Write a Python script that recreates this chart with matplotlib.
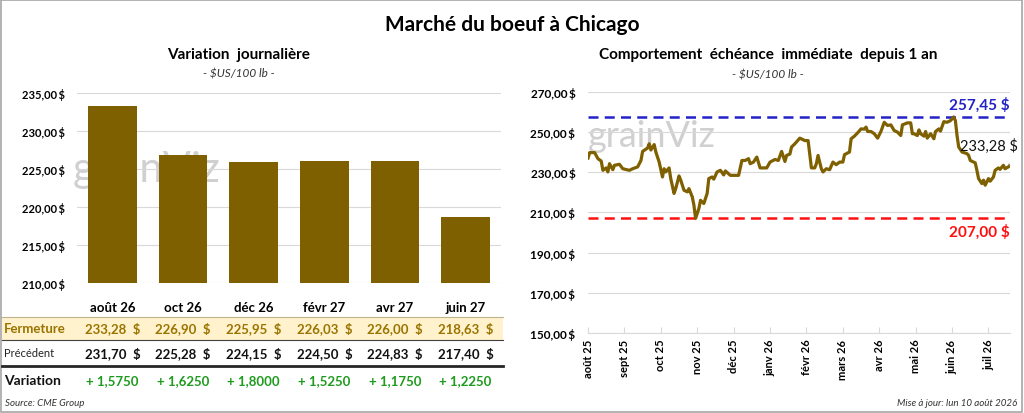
import matplotlib.pyplot as plt
from matplotlib.patches import Rectangle
from matplotlib.transforms import blended_transform_factory

plt.rcParams["font.family"] = ["Lato", "DejaVu Sans"]

W, H = 1024, 414

# --- left panel: daily variation per contract ---
contracts = ["août 26", "oct 26", "déc 26", "févr 27", "avr 27", "juin 27"]
closes = [233.28, 226.90, 225.95, 226.03, 226.00, 218.63]
previous = [231.70, 225.28, 224.15, 224.50, 224.83, 217.40]
changes = [1.5750, 1.6250, 1.8000, 1.5250, 1.1750, 1.2250]

# --- right panel: nearby contract over one year (session number, price) ---
sessions = [0, 1, 4, 6, 8, 9, 11, 12, 13, 15, 16, 19, 21, 25, 27, 30, 32, 33, 36, 37,
            38, 40, 41, 43, 45, 46, 47, 49, 50, 52, 53, 55, 56, 58, 60, 61, 63, 64, 65, 67,
            68, 70, 72, 73, 75, 76, 78, 80, 82, 83, 86, 91, 93, 95, 97, 98, 100, 102, 104, 108,
            110, 113, 115, 117, 119, 120, 122, 123, 125, 128, 131, 133, 135, 137, 138, 139, 141, 142, 144, 146,
            148, 150, 152, 154, 155, 158, 159, 161, 163, 165, 167, 168, 169, 171, 173, 175, 177, 179, 181, 183,
            185, 187, 189, 190, 193, 195, 196, 197, 199, 200, 201, 203, 204, 205, 207, 209, 210, 212, 213, 215,
            217, 219, 221, 222, 223, 224, 226, 229, 230, 231, 234, 235, 236, 238, 239, 240, 242, 243, 245, 246,
            248, 249, 251, 252, 254, 255]
prices = [237.0, 239.7, 239.7, 236.7, 235.5, 230.9, 232.1, 230.1, 234.2, 231.2, 233.4, 233.9, 231.7, 230.9, 231.7, 232.6, 235.8, 240.3, 242.0, 244.1,
          241.0, 243.7, 240.0, 235.0, 227.6, 231.7, 230.1, 232.1, 226.8, 219.4, 221.8, 228.1, 226.1, 221.0, 220.2, 221.8, 217.7, 213.6, 207.0, 211.9,
          216.0, 214.4, 219.4, 226.8, 227.6, 226.5, 230.1, 230.9, 228.6, 230.6, 228.4, 228.4, 235.8, 235.8, 236.7, 234.2, 235.0, 237.5, 232.1, 232.1,
          235.0, 236.3, 235.8, 240.3, 235.3, 238.3, 239.0, 242.5, 244.1, 246.9, 245.7, 245.7, 232.1, 232.1, 234.2, 238.3, 231.7, 230.1, 231.7, 231.2,
          235.0, 233.7, 235.0, 235.0, 238.7, 240.0, 246.6, 247.9, 249.6, 251.5, 251.4, 252.4, 250.2, 250.2, 249.1, 246.9, 250.2, 254.8, 253.2, 253.5,
          250.7, 249.9, 248.2, 253.5, 254.5, 254.5, 249.1, 249.1, 248.2, 251.0, 249.1, 247.9, 250.2, 246.9, 249.1, 246.6, 250.2, 251.5, 250.4, 255.1,
          254.8, 255.6, 257.45, 255.6, 248.2, 242.5, 240.0, 239.2, 238.3, 235.8, 234.6, 230.9, 226.8, 224.3, 226.0, 223.5, 226.8, 225.5, 227.6, 230.9,
          232.1, 231.4, 233.4, 231.7, 232.6, 233.28]
month_labels = ["août 25", "sept 25", "oct 25", "nov 25", "déc 25", "janv 26",
                "févr 26", "mars 26", "avr 26", "mai 26", "juin 26", "juil 26"]
label_step = 22
high_price = 257.45
low_price = 207.00

BAR = "#7F6000"
GOLD_TXT = "#9A7400"
GREEN = "#1E9B1E"
GRID = "#D9D9D9"


def money(v):
    return f"{v:.2f}".replace(".", ",") + " $"


def fx(px):
    return px / W


def fy(py):
    return 1 - py / H


fig = plt.figure(figsize=(10.24, 4.14), dpi=100)
fig.patches.append(Rectangle((0.001, 0.002), 0.997, 0.995, transform=fig.transFigure,
                             fill=False, edgecolor="#A6A6A6", linewidth=1.2))

fig.text(0.5, fy(25), "Marché du boeuf à Chicago", ha="center", va="center",
         fontsize=15, fontweight="bold")

# ---------------- left panel ----------------
ax1 = fig.add_axes([fx(77), fy(284), fx(501 - 77), (284 - 94) / H])
fig.text(fx(239), fy(55), "Variation  journalière", ha="center", va="center",
         fontsize=11, fontweight="bold")
fig.text(fx(239), fy(74), "- $US/100 lb -", ha="center", va="center",
         fontsize=8.5, style="italic", color="#333333")

ax1.text(-0.01, 0.6, "grainViz", transform=ax1.transAxes, fontsize=30,
         color="#D0D0D0", zorder=0, va="center")
ax1.bar(range(len(contracts)), closes, width=0.69, color=BAR, zorder=2)
ax1.set_xlim(-0.5, len(contracts) - 0.5)
ax1.set_ylim(210, 235)
ax1.set_yticks([210, 215, 220, 225, 230, 235])
ax1.set_yticklabels([money(v).replace(" $", "\u2009$") for v in [210, 215, 220, 225, 230, 235]],
                    fontsize=8, fontweight="bold")
ax1.set_xticks([])
ax1.grid(axis="y", color=GRID, linewidth=0.8, zorder=1)
ax1.set_axisbelow(True)
for s in ax1.spines.values():
    s.set_visible(False)
ax1.tick_params(axis="y", length=0, pad=9)

tr = blended_transform_factory(ax1.transData, fig.transFigure)

# table
fig.patches.append(Rectangle((fx(2), fy(341)), fx(503 - 2), (341 - 318) / H,
                             transform=fig.transFigure, facecolor="#FFF2CC",
                             edgecolor="none", zorder=-1))
fig.add_artist(plt.Line2D([fx(2), fx(503)], [fy(318), fy(318)], color="#BFB38F", linewidth=0.8))
fig.add_artist(plt.Line2D([fx(2), fx(503)], [fy(341), fy(341)], color="#404040", linewidth=0.8))
fig.add_artist(plt.Line2D([fx(2), fx(503)], [fy(367), fy(367)], color="#262626", linewidth=2.0))

fig.text(fx(4), fy(329), "Fermeture", ha="left", va="center", fontsize=9.5,
         fontweight="bold", color=GOLD_TXT)
fig.text(fx(4), fy(354), "Précédent", ha="left", va="center", fontsize=8, color="#222222")
fig.text(fx(4), fy(381), "Variation", ha="left", va="center", fontsize=10,
         fontweight="bold", color="#111111")

for i in range(len(contracts)):
    ax1.text(i, fy(308), contracts[i], transform=tr, ha="center", va="center",
             fontsize=9.5, fontweight="bold")
    ax1.text(i, fy(329), money(closes[i]).replace(" $", "  $"), transform=tr, ha="center",
             va="center", fontsize=9.5, fontweight="bold", color=GOLD_TXT, zorder=5)
    ax1.text(i, fy(354), money(previous[i]).replace(" $", "  $"), transform=tr, ha="center",
             va="center", fontsize=9.5, fontweight="bold", color="#111111")
    ax1.text(i, fy(381), "+ " + f"{changes[i]:.4f}".replace(".", ","), transform=tr,
             ha="center", va="center", fontsize=9.5, fontweight="bold", color=GREEN)

fig.text(fx(5), fy(404), "Source: CME Group", ha="left", va="center", fontsize=7,
         style="italic", color="#333333")

# ---------------- right panel ----------------
ax2 = fig.add_axes([fx(588), fy(334), fx(1010 - 588), (334 - 92.7) / H])
fig.text(fx(768), fy(55), "Comportement  échéance  immédiate  depuis 1 an", ha="center",
         va="center", fontsize=11, fontweight="bold")
fig.text(fx(768), fy(75), "- $US/100 lb -", ha="center", va="center",
         fontsize=8.5, style="italic", color="#333333")

ax2.text(0.0, 0.82, "grainViz", transform=ax2.transAxes, fontsize=26,
         color="#D0D0D0", zorder=0, va="center")
ax2.plot(sessions, prices, color=BAR, linewidth=2.3, zorder=3)
ax2.axhline(high_price, color="#2323C8", linestyle=(0, (4, 2.5)), linewidth=1.8, zorder=2)
ax2.axhline(low_price, color="#FF1010", linestyle=(0, (4, 2.5)), linewidth=1.8, zorder=2)
ax2.set_xlim(sessions[0], sessions[-1])
ax2.set_ylim(150, 270)
yt = list(range(150, 271, 20))
ax2.set_yticks(yt)
ax2.set_yticklabels([money(v).replace(" $", "\u2009$") for v in yt], fontsize=8.5,
                    fontweight="bold")
ax2.set_xticks([i * label_step for i in range(len(month_labels))])
ax2.set_xticklabels(month_labels, rotation=90, fontsize=8, fontweight="bold")
ax2.grid(axis="y", color=GRID, linewidth=0.8, zorder=1)
for k in ["top", "right", "left"]:
    ax2.spines[k].set_visible(False)
ax2.spines["bottom"].set_color(GRID)
ax2.tick_params(axis="y", length=0, pad=9)
ax2.tick_params(axis="x", direction="in", length=4, color=GRID, pad=4)

ax2.text(sessions[-1], high_price + 2.5, money(high_price), ha="right", va="bottom",
         fontsize=11, fontweight="bold", color="#2323C8")
ax2.text(sessions[-1], low_price - 2.5, money(low_price), ha="right", va="top",
         fontsize=11, fontweight="bold", color="#FF1010")
ax2.annotate(money(prices[-1]), xy=(sessions[-1], prices[-1]), xytext=(242, 243.5),
             ha="center", va="center", fontsize=10.5, color="#111111",
             arrowprops=dict(arrowstyle="-", color="#A0A0A0", linewidth=0.6,
                             shrinkA=9, shrinkB=2))

fig.text(fx(1017), fy(404), "Mise à jour: lun 10 août 2026", ha="right", va="center",
         fontsize=7, style="italic", color="#333333")

fig.savefig("out.png", dpi=100)
